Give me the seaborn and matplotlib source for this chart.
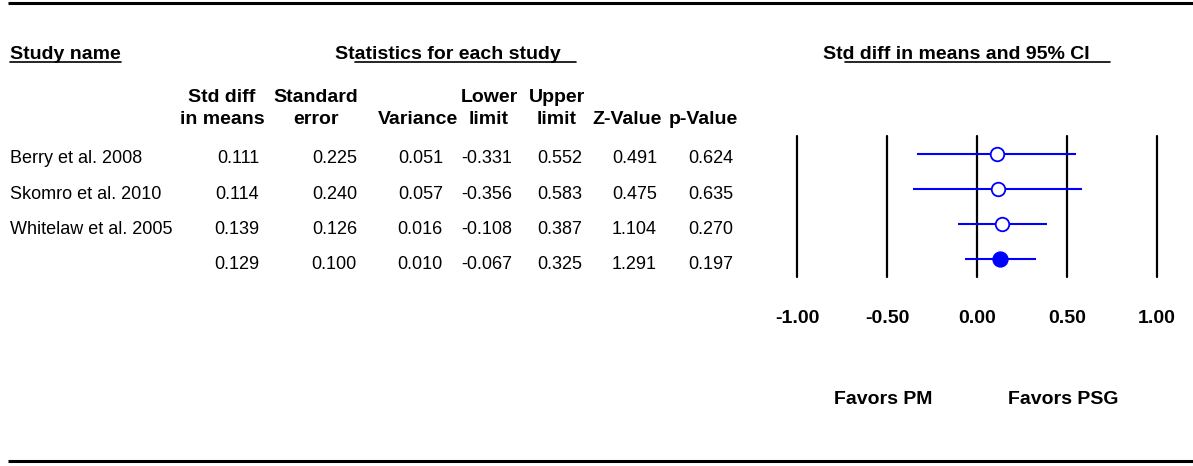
import matplotlib
matplotlib.use("Agg")
import matplotlib.pyplot as plt
import seaborn as sns
import numpy as np
import pandas as pd

# ---------------- data ----------------
studies = ["Berry et al. 2008", "Skomro et al. 2010", "Whitelaw et al. 2005", ""]
std_diff = [0.111, 0.114, 0.139, 0.129]
std_err = [0.225, 0.240, 0.126, 0.100]
variance = [0.051, 0.057, 0.016, 0.010]
lower = [-0.331, -0.356, -0.108, -0.067]
upper = [0.552, 0.583, 0.387, 0.325]
z_value = [0.491, 0.475, 1.104, 1.291]
p_value = [0.624, 0.635, 0.270, 0.197]
is_summary = [False, False, False, True]

col_head_top = ["Std diff", "Standard", "", "Lower", "Upper", "", ""]
col_head_bot = ["in means", "error", "Variance", "limit", "limit", "Z-Value", "p-Value"]
x_ticks = [-1.0, -0.5, 0.0, 0.5, 1.0]
tick_labels = ["-1.00", "-0.50", "0.00", "0.50", "1.00"]
favors_left = "Favors PM"
favors_right = "Favors PSG"
title_study = "Study name"
title_stats = "Statistics for each study"
title_ci = "Std diff in means and 95% CI"

# ---------------- style ----------------
sns.set_style("white")
plt.rcParams["font.family"] = ["Liberation Sans", "DejaVu Sans"]
plt.rcParams["text.color"] = "black"
plt.rcParams["xtick.color"] = "black"
plt.rcParams["xtick.labelcolor"] = "black"

W, H = 1193, 466
fig = plt.figure(figsize=(W / 100, H / 100), dpi=100)
fig.patch.set_facecolor("white")

# overlay axes in pixel coordinates for the table text
ov = fig.add_axes([0, 0, 1, 1])
ov.set_xlim(0, W)
ov.set_ylim(H, 0)
ov.axis("off")

# forest axes geometry (pixels)
f_left, f_right, f_top, f_bot = 797, 1157, 136, 277
n_rows = len(studies)
row_h = (f_bot - f_top) / n_rows

fax = fig.add_axes([f_left / W, 1 - f_bot / H, (f_right - f_left) / W, (f_bot - f_top) / H])
fax.patch.set_alpha(0)

df = pd.DataFrame({
    "study": studies, "es": std_diff, "lo": lower, "hi": upper,
    "row": np.arange(n_rows), "summary": is_summary,
})

for t in x_ticks:
    fax.axvline(t, color="black", lw=1.6, zorder=1, clip_on=False)

fax.hlines(df["row"], df["lo"], df["hi"], color="blue", lw=1.5, zorder=2)
sns.scatterplot(data=df[~df["summary"]], x="es", y="row", ax=fax, marker="o", s=95,
                color="blue", facecolor="white", edgecolor="blue", linewidth=1.3,
                zorder=3, legend=False)
sns.scatterplot(data=df[df["summary"]], x="es", y="row", ax=fax, marker="o", s=115,
                color="blue", edgecolor="blue", linewidth=1.0, zorder=3, legend=False)

fax.set_xlim(-1, 1)
fax.set_ylim(n_rows - 0.5, -0.5)
fax.set_xlabel("")
fax.set_ylabel("")
fax.set_yticks([])
fax.set_xticks(x_ticks, tick_labels)
for lab in fax.get_xticklabels():
    lab.set_fontweight("bold")
    lab.set_fontsize(14)
    lab.set_color("black")
fax.tick_params(axis="x", length=0, pad=24)
for sp in fax.spines.values():
    sp.set_visible(False)

# ---------------- table text ----------------
val_fs = 13
hdr_fs = 14
value_right = [259, 357, 443, 512, 582, 657, 733]
head_center = [222, 316, 418, 489, 557, 627, 703]
columns = [std_diff, std_err, variance, lower, upper, z_value, p_value]

for i in range(n_rows):
    base = f_top + (i + 0.5) * row_h + 9.7
    ov.text(10, base, studies[i], fontsize=val_fs, ha="left", va="baseline")
    for c, vals in enumerate(columns):
        ov.text(value_right[c], base, f"{vals[i]:.3f}", fontsize=val_fs,
                ha="right", va="baseline")

for c in range(len(columns)):
    if col_head_top[c]:
        ov.text(head_center[c], 101.5, col_head_top[c], fontsize=hdr_fs,
                fontweight="bold", ha="center", va="baseline")
    ov.text(head_center[c], 124, col_head_bot[c], fontsize=hdr_fs,
            fontweight="bold", ha="center", va="baseline")

# section titles
ov.text(10, 59, title_study, fontsize=hdr_fs, fontweight="bold", ha="left", va="baseline")
ov.text(335, 59, title_stats, fontsize=hdr_fs, fontweight="bold", ha="left", va="baseline")
ov.text(823, 59, title_ci, fontsize=hdr_fs, fontweight="bold", ha="left", va="baseline")
ov.plot([10, 121], [62, 62], color="black", lw=1.2)
ov.plot([355, 576], [62, 62], color="black", lw=1.2)
ov.plot([845, 1110], [62, 62], color="black", lw=1.2)

# favors labels
ov.text(883, 404, favors_left, fontsize=hdr_fs, fontweight="bold", ha="center", va="baseline")
ov.text(1063, 404, favors_right, fontsize=hdr_fs, fontweight="bold", ha="center", va="baseline")

# frame lines
ov.plot([8, W], [2.5, 2.5], color="black", lw=2.2, solid_capstyle="butt")
ov.plot([8, W], [461, 461], color="black", lw=2.2, solid_capstyle="butt")

fig.savefig("out.png", dpi=100)
